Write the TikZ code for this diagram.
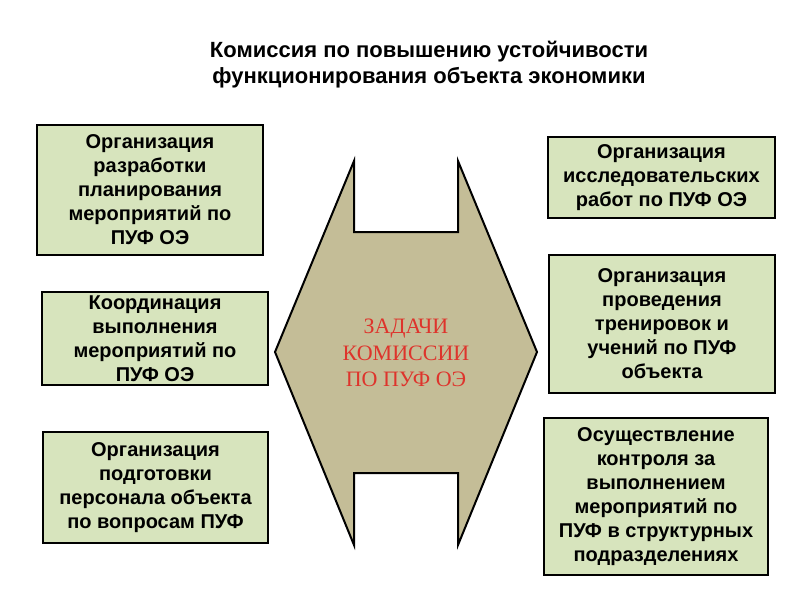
\documentclass[tikz,border=0pt]{standalone}
\usepackage{fontspec}
\setmainfont{Liberation Sans}
\newfontfamily\taskserif{Liberation Serif}
\usetikzlibrary{shadows}
\definecolor{boxgreen}{RGB}{215,228,189}
\definecolor{hextan}{RGB}{196,189,151}
\definecolor{taskred}{RGB}{222,52,44}
\tikzset{
  task/.style={draw=black, line width=1.3pt, fill=boxgreen, align=center, inner sep=0pt,
    font=\fontsize{20}{24}\selectfont\bfseries,
    drop shadow={shadow xshift=1.2pt, shadow yshift=-1.2pt, fill=black!35, opacity=0.6}},
  heading/.style={align=center, font=\fontsize{22}{26}\selectfont\bfseries},
  centre/.style={align=center, text=taskred, font=\taskserif\fontsize{22}{26.5}\selectfont},
}
\begin{document}
\begin{tikzpicture}[x=1pt, y=-1pt]
\useasboundingbox (0,0) rectangle (800,600);
\node[heading] (title) at (429,65) {Комиссия по повышению устойчивости\\функционирования объекта экономики};
\draw[line width=2pt, fill=hextan] (275,352) -- (354,161) -- (354,232) -- (458,232) -- (458,161) -- (537,352) -- (458,545) -- (458,473) -- (354,473) -- (354,545) -- cycle;
\node[centre] (tasks) at (406,353) {ЗАДАЧИ\\КОМИССИИ\\ПО ПУФ ОЭ};
\node[task, minimum width=226pt, minimum height=130pt] (plan) at (150,190) {Организация\\разработки\\планирования\\мероприятий по\\ПУФ ОЭ};
\node[task, minimum width=226pt, minimum height=93pt] (coord) at (155,338.5) {Координация\\выполнения\\мероприятий по\\ПУФ ОЭ};
\node[task, minimum width=225pt, minimum height=111pt] (staff) at (155.5,487.5) {Организация\\подготовки\\персонала объекта\\по вопросам ПУФ};
\node[task, minimum width=227pt, minimum height=81pt] (research) at (661.5,177.5) {Организация\\исследовательских\\работ по ПУФ ОЭ};
\node[task, minimum width=226pt, minimum height=138pt] (drill) at (662,324) {Организация\\проведения\\тренировок и\\учений по ПУФ\\объекта};
\node[task, minimum width=224pt, minimum height=157pt] (control) at (656,496.5) {Осуществление\\контроля за\\выполнением\\мероприятий по\\ПУФ в структурных\\подразделениях};
\end{tikzpicture}
\end{document}
